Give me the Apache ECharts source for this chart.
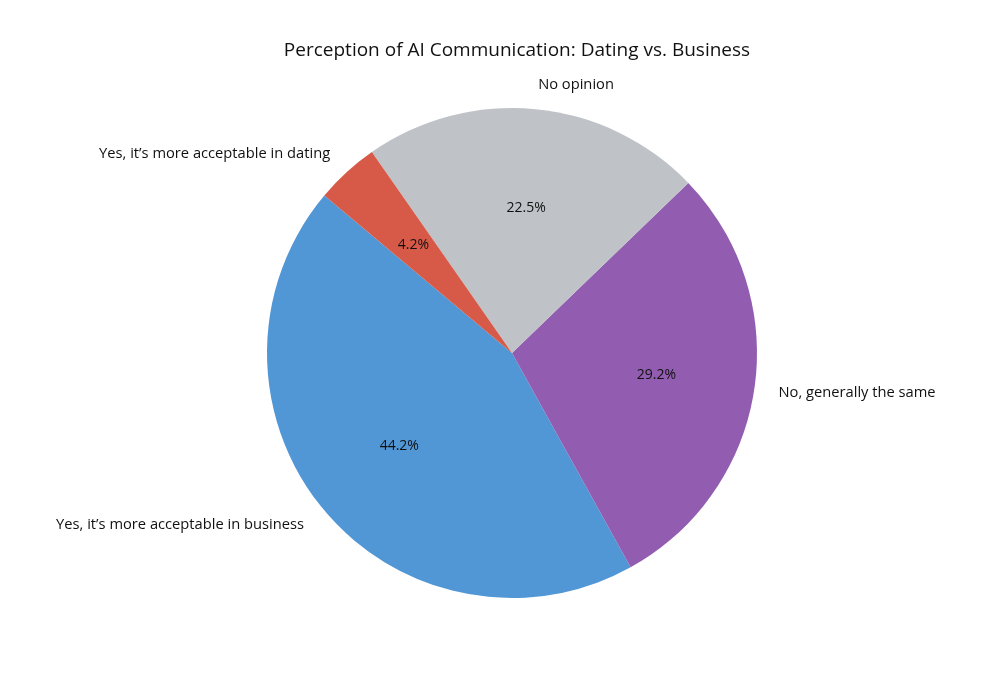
<!DOCTYPE html>
<html>
<head>
<meta charset="utf-8">
<script src="https://cdn.jsdelivr.net/npm/echarts@6/dist/echarts.min.js"></script>
<style>html,body{margin:0;padding:0;background:#fff}#c{width:1000px;height:700px}</style>
</head>
<body>
<div id="c"></div>
<script>
const titleText = 'Perception of AI Communication: Dating vs. Business';
const categories = ['Yes, it\u2019s more acceptable in business', 'No, generally the same', 'No opinion', 'Yes, it\u2019s more acceptable in dating'];
const values = [44.2, 29.2, 22.5, 4.2];
const colors = ['#5196d5', '#925db0', '#bfc3c7', '#d65a47'];

const FONT = '"Open Sans", Roboto, sans-serif';
const R = 245;
const CENTER = [512, 353];
const START = 140;

const data = categories.map((name, i) => ({ name, value: values[i], itemStyle: { color: colors[i] } }));

const chart = echarts.init(document.getElementById('c'), null, { renderer: 'canvas' });
chart.setOption({
  animation: false,
  backgroundColor: '#ffffff',
  title: {
    text: titleText,
    left: 512, top: 36, textAlign: 'center',
    textStyle: { fontFamily: FONT, fontSize: 19, fontWeight: 'normal', color: '#111' }
  },
  series: [
    {
      type: 'pie',
      center: CENTER,
      radius: [0, R],
      startAngle: START,
      clockwise: false,
      avoidLabelOverlap: false,
      silent: true,
      data: data,
      itemStyle: { borderWidth: 0 },
      label: {
        show: true, position: 'outside',
        formatter: '{b}',
        fontFamily: FONT, fontSize: 14.7, color: '#111'
      },
      labelLine: { show: false, length: R * 0.1, length2: -5 },
      emphasis: { disabled: true }
    },
    {
      type: 'pie',
      center: CENTER,
      radius: [R * 0.6 - 24, R * 0.6 + 16],
      startAngle: START,
      clockwise: false,
      avoidLabelOverlap: false,
      silent: true,
      data: categories.map((name, i) => ({ name, value: values[i] })),
      itemStyle: { color: 'rgba(0,0,0,0)', borderWidth: 0 },
      label: {
        show: true, position: 'inside',
        formatter: p => p.value.toFixed(1) + '%',
        fontFamily: FONT, fontSize: 14, color: '#111'
      },
      labelLine: { show: false },
      emphasis: { disabled: true }
    }
  ]
});
</script>
</body>
</html>
